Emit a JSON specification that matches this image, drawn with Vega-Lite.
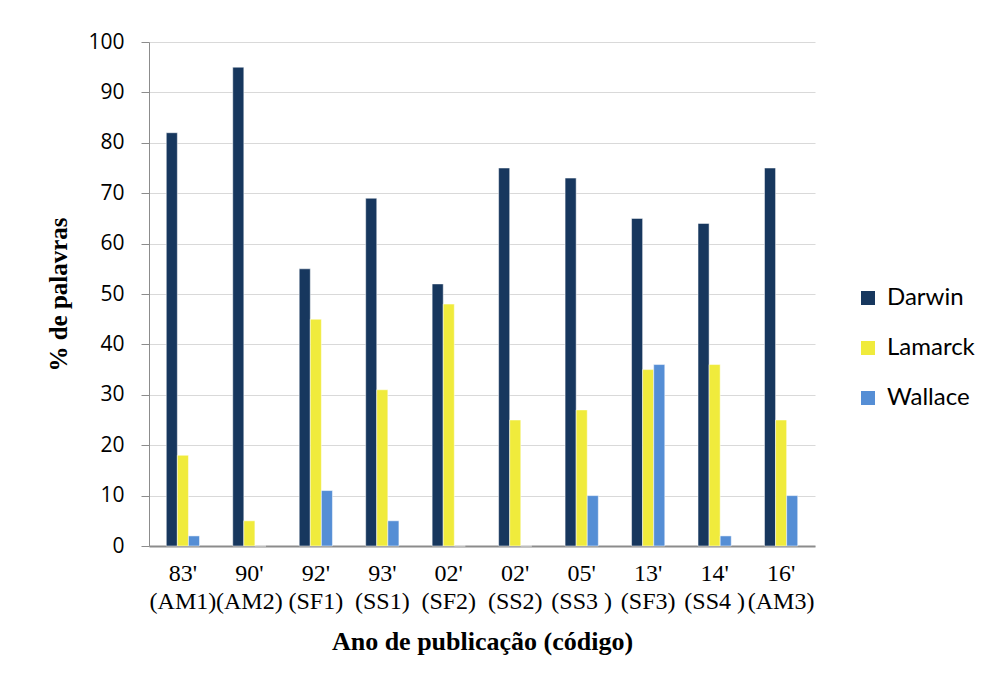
{
  "$schema": "https://vega.github.io/schema/vega-lite/v6.json",
  "autosize": {"type": "none"},
  "width": 666,
  "height": 504,
  "padding": {"left": 149, "top": 42, "right": 173, "bottom": 133},
  "background": "white",
  "data": {"values": [
    {"cat": "83'|(AM1)", "autor": "Darwin", "v": 82},
    {"cat": "83'|(AM1)", "autor": "Lamarck", "v": 18},
    {"cat": "83'|(AM1)", "autor": "Wallace", "v": 2},
    {"cat": "90'|(AM2)", "autor": "Darwin", "v": 95},
    {"cat": "90'|(AM2)", "autor": "Lamarck", "v": 5},
    {"cat": "90'|(AM2)", "autor": "Wallace", "v": 0},
    {"cat": "92'|(SF1)", "autor": "Darwin", "v": 55},
    {"cat": "92'|(SF1)", "autor": "Lamarck", "v": 45},
    {"cat": "92'|(SF1)", "autor": "Wallace", "v": 11},
    {"cat": "93'|(SS1)", "autor": "Darwin", "v": 69},
    {"cat": "93'|(SS1)", "autor": "Lamarck", "v": 31},
    {"cat": "93'|(SS1)", "autor": "Wallace", "v": 5},
    {"cat": "02'|(SF2)", "autor": "Darwin", "v": 52},
    {"cat": "02'|(SF2)", "autor": "Lamarck", "v": 48},
    {"cat": "02'|(SF2)", "autor": "Wallace", "v": 0},
    {"cat": "02'|(SS2)", "autor": "Darwin", "v": 75},
    {"cat": "02'|(SS2)", "autor": "Lamarck", "v": 25},
    {"cat": "02'|(SS2)", "autor": "Wallace", "v": 0},
    {"cat": "05'|(SS3 )", "autor": "Darwin", "v": 73},
    {"cat": "05'|(SS3 )", "autor": "Lamarck", "v": 27},
    {"cat": "05'|(SS3 )", "autor": "Wallace", "v": 10},
    {"cat": "13'|(SF3)", "autor": "Darwin", "v": 65},
    {"cat": "13'|(SF3)", "autor": "Lamarck", "v": 35},
    {"cat": "13'|(SF3)", "autor": "Wallace", "v": 36},
    {"cat": "14'|(SS4 )", "autor": "Darwin", "v": 64},
    {"cat": "14'|(SS4 )", "autor": "Lamarck", "v": 36},
    {"cat": "14'|(SS4 )", "autor": "Wallace", "v": 2},
    {"cat": "16'|(AM3)", "autor": "Darwin", "v": 75},
    {"cat": "16'|(AM3)", "autor": "Lamarck", "v": 25},
    {"cat": "16'|(AM3)", "autor": "Wallace", "v": 10}
  ]},
  "mark": {"type": "bar", "stroke": "white", "strokeWidth": 0.5},
  "encoding": {
    "x": {
      "field": "cat", "type": "nominal", "sort": null,
      "scale": {"paddingInner": 0.5, "paddingOuter": 0.26},
      "axis": {
        "title": "Ano de publicação (código)",
        "titleFont": "Liberation Serif", "titleFontSize": 26, "titleFontWeight": "bold", "titleColor": "black",
        "titlePadding": 15,
        "labelExpr": "split(datum.label, '|')",
        "labelFont": "Liberation Serif", "labelFontSize": 24, "labelColor": "black",
        "labelLineHeight": 28, "labelAngle": 0, "labelPadding": 15,
        "ticks": false, "domainColor": "#8c8c8c", "domainWidth": 2, "grid": false
      }
    },
    "xOffset": {"field": "autor", "type": "nominal", "scale": {"paddingInner": 0, "paddingOuter": 0}},
    "y": {
      "field": "v", "type": "quantitative",
      "scale": {"domain": [0, 100], "nice": false},
      "axis": {
        "title": "% de palavras", "titleFont": "Liberation Serif", "titleFontSize": 25, "titleFontWeight": "bold", "titleColor": "black",
        "titlePadding": 16,
        "values": [0, 10, 20, 30, 40, 50, 60, 70, 80, 90, 100],
        "labelFont": "Open Sans", "labelFontSize": 21, "labelColor": "black", "labelPadding": 17,
        "tickSize": 8, "tickColor": "#8c8c8c", "domainColor": "#8c8c8c",
        "gridColor": "#d9d9d9", "gridWidth": 1
      }
    },
    "color": {
      "field": "autor", "type": "nominal",
      "scale": {"domain": ["Darwin", "Lamarck", "Wallace"], "range": ["#17375E", "#F0EB3C", "#558ED5"]},
      "legend": {
        "title": null, "orient": "none", "legendX": 707, "legendY": 244,
        "symbolType": "square", "symbolSize": 196, "symbolStrokeWidth": 0,
        "labelFont": "Lato", "labelFontSize": 24, "labelColor": "black",
        "rowPadding": 26, "labelOffset": 7,
        "encode": {"labels": {"update": {"font": {"signal": "datum.label === 'Darwin' ? 'Liberation Serif' : 'Lato'"}, "fontSize": {"signal": "datum.label === 'Darwin' ? 26 : 24"}}}}
      }
    }
  },
  "config": {"view": {"stroke": null}}
}
